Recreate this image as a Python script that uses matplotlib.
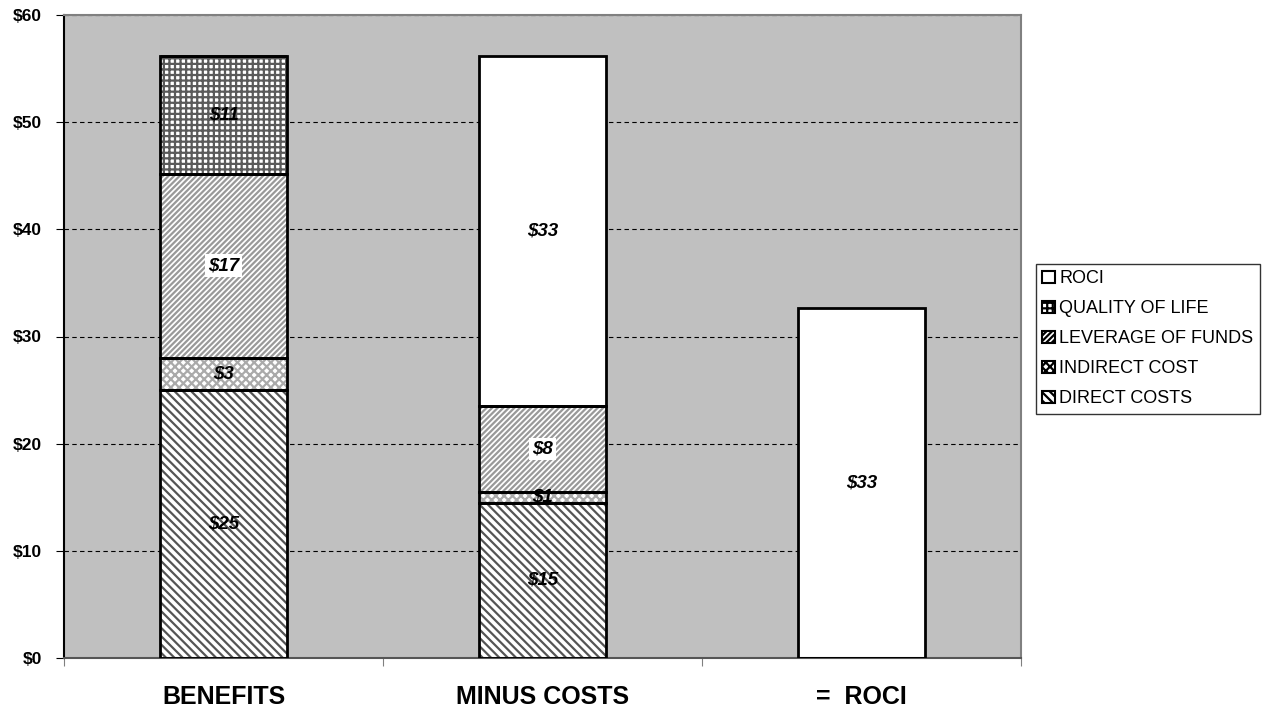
import numpy as np
import matplotlib.pyplot as plt

plt.rcParams['font.family'] = ['Liberation Sans', 'DejaVu Sans']
plt.rcParams['hatch.linewidth'] = 1.6

categories = ["BENEFITS", "MINUS COSTS", "=  ROCI"]
direct_costs = [25.0, 14.5, 0.0]
indirect_cost = [3.0, 1.0, 0.0]
leverage_of_funds = [17.2, 8.0, 0.0]
quality_of_life = [11.0, 0.0, 0.0]
roci = [0.0, 32.7, 32.7]

series = [
    ("DIRECT COSTS", direct_costs, "white", "#555555", "\\\\\\\\"),
    ("INDIRECT COST", indirect_cost, "white", "#aaaaaa", "xxxx"),
    ("LEVERAGE OF FUNDS", leverage_of_funds, "white", "#999999", "//////"),
    ("QUALITY OF LIFE", quality_of_life, "white", "#5a5a5a", "+++"),
    ("ROCI", roci, "white", "black", None),
]
# labels that sit on a white box
boxed = {("LEVERAGE OF FUNDS", 0), ("LEVERAGE OF FUNDS", 1)}

fig = plt.figure(figsize=(12.85, 7.14), dpi=100)
ax = fig.add_axes([64 / 1285, 56 / 714, 957 / 1285, 643 / 714])
ax.set_facecolor("#c0c0c0")

x = np.arange(len(categories))
bottom = np.zeros(len(categories))
handles = []
for name, vals, fc, hc, hatch in series:
    vals = np.array(vals)
    # hatch colour is taken from the edge colour, so draw fill/hatch and outline separately
    h = ax.bar(x, vals, 0.4, bottom=bottom, color=fc, edgecolor=hc, hatch=hatch,
               linewidth=0, zorder=2, label=name)
    ax.bar(x, vals, 0.4, bottom=bottom, fill=False, edgecolor="black",
           linewidth=2, zorder=3)
    handles.append(h)
    for i, v in enumerate(vals):
        if v <= 0:
            continue
        kw = {}
        if (name, i) in boxed:
            kw["bbox"] = dict(facecolor="white", edgecolor="none", pad=2)
        ax.text(x[i], bottom[i] + v / 2, f"${v:.0f}" if v != 14.5 else "$15",
                ha="center", va="center", fontsize=13.5, fontweight="bold",
                fontstyle="italic", zorder=4, **kw)
    bottom += vals

ax.set_xlim(-0.5, 2.5)
ax.set_ylim(0, 60)
ax.set_yticks(np.arange(0, 61, 10))
ax.set_yticklabels([f"${v}" for v in range(0, 61, 10)], fontsize=12.5, fontweight="bold")
ax.yaxis.grid(True, color="black", linestyle=(0, (4, 3)), linewidth=0.8, zorder=1)
ax.set_axisbelow(True)

# category names between the outward tick marks
ax.set_xticks([-0.5, 0.5, 1.5, 2.5])
ax.set_xticklabels([])
ax.tick_params(axis="x", direction="out", length=6, color="gray")
ax.tick_params(axis="y", direction="out", length=6, color="black", pad=10)
for i, c in enumerate(categories):
    ax.text(x[i], -39 / 643, c, transform=ax.get_xaxis_transform(), ha="center",
            va="center", fontsize=18, fontweight="bold")

ax.spines["left"].set_color("black")
ax.spines["bottom"].set_color("#555555")
ax.spines["top"].set_color("#808080")
ax.spines["right"].set_color("#808080")
for s in ax.spines.values():
    s.set_linewidth(1.5)

leg = fig.legend(handles[::-1], [s[0] for s in series][::-1],
                 loc="upper left", bbox_to_anchor=(1036 / 1285, 1 - 264 / 714),
                 fontsize=13, frameon=True, fancybox=False, edgecolor="black",
                 handlelength=0.7, handleheight=0.7, handletextpad=0.25,
                 borderpad=0.35, labelspacing=0.72, borderaxespad=0)
leg.get_frame().set_linewidth(1.0)
for p in leg.get_patches():
    p.set_linewidth(1.5)
    p.set_edgecolor("black")

fig.savefig("out.png", dpi=100)
